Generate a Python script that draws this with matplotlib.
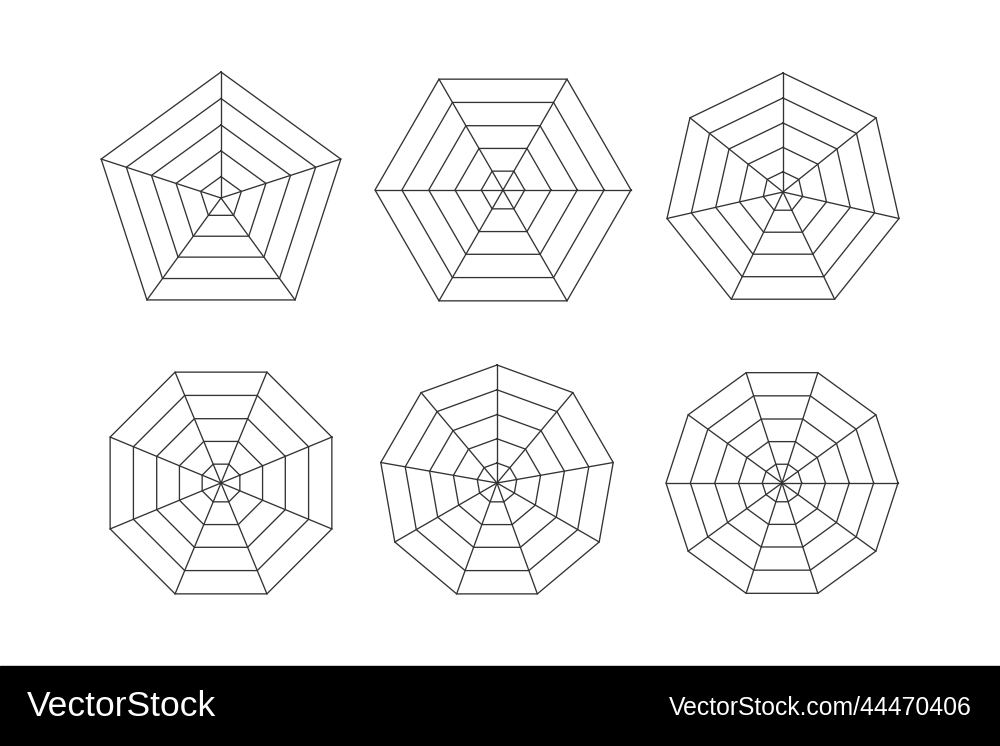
import numpy as np
import matplotlib
matplotlib.use("Agg")
import matplotlib.pyplot as plt
from matplotlib.patches import Rectangle

# chart data: number of axes per radar grid and relative ring levels
sides = [5, 6, 7, 8, 9, 10]
ring_levels = [1.0, 0.79, 0.58, 0.375, 0.17]
start_angles = [90, 0, 90, 22.5, 90, 0]
banner_left = "VectorStock"
banner_right = "VectorStock.com/44470406"

# layout in pixels (figure is 1000 x 746)
centers = [(221, 198), (503, 190), (783, 192), (221, 483), (497, 483), (782, 483)]
radii = [126, 128, 119, 120, 118, 116]

line_color = "#333333"
lw = 0.95

fig = plt.figure(figsize=(10, 7.46), dpi=100)
ax = fig.add_axes([0, 0, 1, 1])
ax.set_xlim(0, 1000)
ax.set_ylim(746, 0)
ax.set_aspect("equal")
ax.axis("off")

for n, a0, (cx, cy), R in zip(sides, start_angles, centers, radii):
    ang = np.deg2rad(a0 + 360.0 / n * np.arange(n + 1))
    ux = np.cos(ang)
    uy = -np.sin(ang)
    for lev in ring_levels:
        ax.plot(cx + R * lev * ux, cy + R * lev * uy, color=line_color,
                lw=lw, solid_joinstyle="miter")
    for k in range(n):
        ax.plot([cx, cx + R * ux[k]], [cy, cy + R * uy[k]],
                color=line_color, lw=lw)

# bottom banner
ax.add_patch(Rectangle((0, 666), 1000, 80, color="black", zorder=5))
ax.text(27, 706, banner_left, color="white", fontsize=25.5,
        family=["Liberation Sans", "DejaVu Sans"], va="center", ha="left", zorder=6)
ax.text(972, 708, banner_right, color="white", fontsize=17.8,
        family=["Liberation Sans", "DejaVu Sans"], va="center", ha="right", zorder=6)

fig.savefig("out.png", dpi=100, facecolor="white")
